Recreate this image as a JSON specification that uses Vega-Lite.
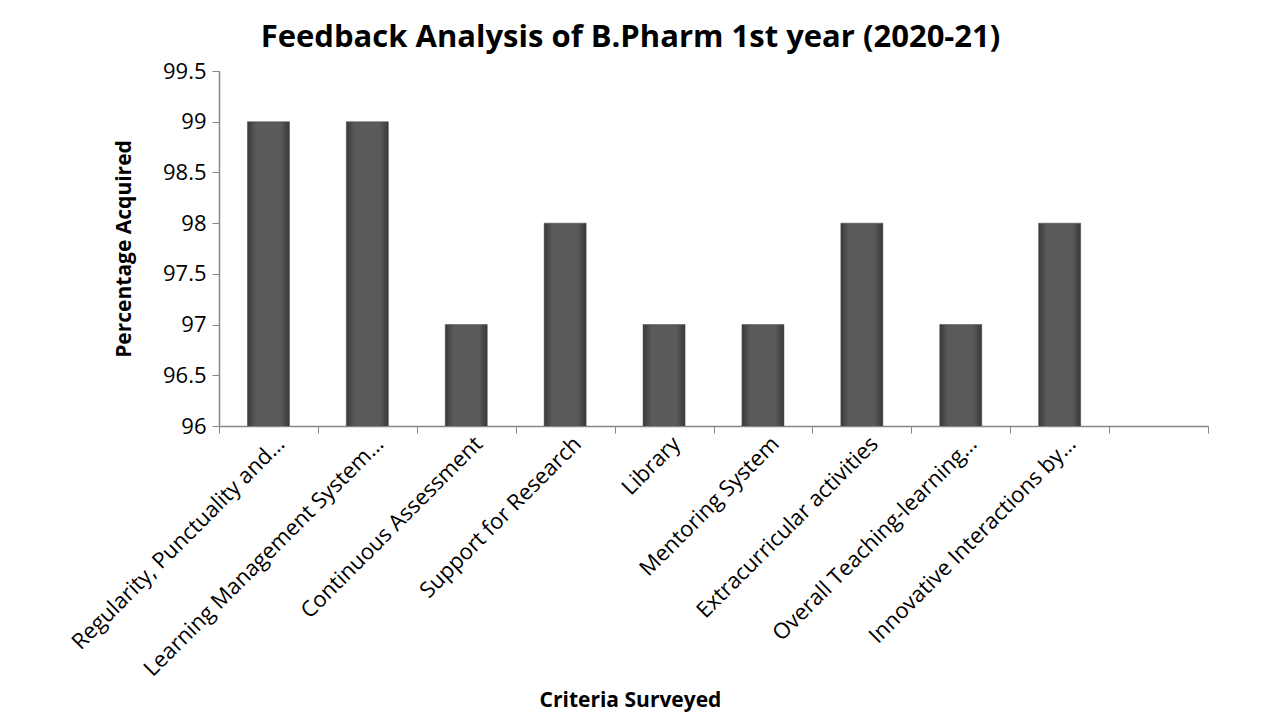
{
  "$schema": "https://vega.github.io/schema/vega-lite/v6.json",
  "width": 989,
  "height": 355,
  "autosize": {"type": "none"},
  "padding": {"left": 219, "top": 71, "right": 56, "bottom": 297},
  "background": "white",
  "data": {
    "values": [
      {"criteria": "Regularity, Punctuality and…", "pct": 99},
      {"criteria": "Learning Management System…", "pct": 99},
      {"criteria": "Continuous Assessment", "pct": 97},
      {"criteria": "Support for Research", "pct": 98},
      {"criteria": "Library", "pct": 97},
      {"criteria": "Mentoring System", "pct": 97},
      {"criteria": "Extracurricular activities", "pct": 98},
      {"criteria": "Overall Teaching-learning…", "pct": 97},
      {"criteria": "Innovative Interactions by…", "pct": 98}
    ]
  },
  "title": {
    "text": "Feedback Analysis of B.Pharm 1st year (2020-21)",
    "font": "Open Sans",
    "fontSize": 31,
    "fontWeight": "bold",
    "color": "#000000",
    "anchor": "middle",
    "dx": -83,
    "offset": 6
  },
  "mark": {
    "type": "bar",
    "width": 42,
    "clip": true,
    "color": {
      "x1": 0, "y1": 0, "x2": 1, "y2": 0,
      "gradient": "linear",
      "stops": [
        {"offset": 0, "color": "#3a3a3a"},
        {"offset": 0.2, "color": "#5a5a5a"},
        {"offset": 0.8, "color": "#5a5a5a"},
        {"offset": 1, "color": "#383838"}
      ]
    },
    "stroke": "#444444",
    "strokeWidth": 0.5
  },
  "encoding": {
    "x": {
      "field": "criteria",
      "type": "nominal",
      "sort": null,
      "scale": {
        "domain": ["Regularity, Punctuality and…", "Learning Management System…", "Continuous Assessment", "Support for Research", "Library", "Mentoring System", "Extracurricular activities", "Overall Teaching-learning…", "Innovative Interactions by…", " "],
        "paddingInner": 0, "paddingOuter": 0
      },
      "axis": {
        "title": "Criteria Surveyed",
        "titleFont": "Open Sans",
        "titleFontSize": 21,
        "titleFontWeight": "bold",
        "titleColor": "#000000",
        "titleX": 411,
        "titleY": 274,
        "titleBaseline": "middle",
        "labelAngle": -45,
        "labelAlign": "right",
        "labelBaseline": "middle",
        "labelFont": "Open Sans",
        "labelFontSize": 22,
        "labelColor": "#000000",
        "labelLimit": 500,
        "labelPadding": 7,
        "labelOffset": 12,
        "tickBand": "extent",
        "tickSize": 7,
        "tickColor": "#868686",
        "domainColor": "#868686",
        "domainWidth": 1.5
      }
    },
    "y": {
      "field": "pct",
      "type": "quantitative",
      "scale": {"domain": [96, 99.5], "nice": false, "zero": false},
      "axis": {
        "title": "Percentage Acquired",
        "titleFont": "Open Sans",
        "titleFontSize": 21,
        "titleFontWeight": "bold",
        "titleColor": "#000000",
        "titlePadding": 28,
        "values": [96, 96.5, 97, 97.5, 98, 98.5, 99, 99.5],
        "format": "~g",
        "labelFont": "Open Sans",
        "labelFontSize": 22,
        "labelColor": "#000000",
        "labelPadding": 6,
        "tickSize": 7,
        "tickColor": "#868686",
        "domainColor": "#868686",
        "domainWidth": 1.5,
        "grid": false
      }
    }
  },
  "config": {
    "view": {"stroke": null}
  }
}
